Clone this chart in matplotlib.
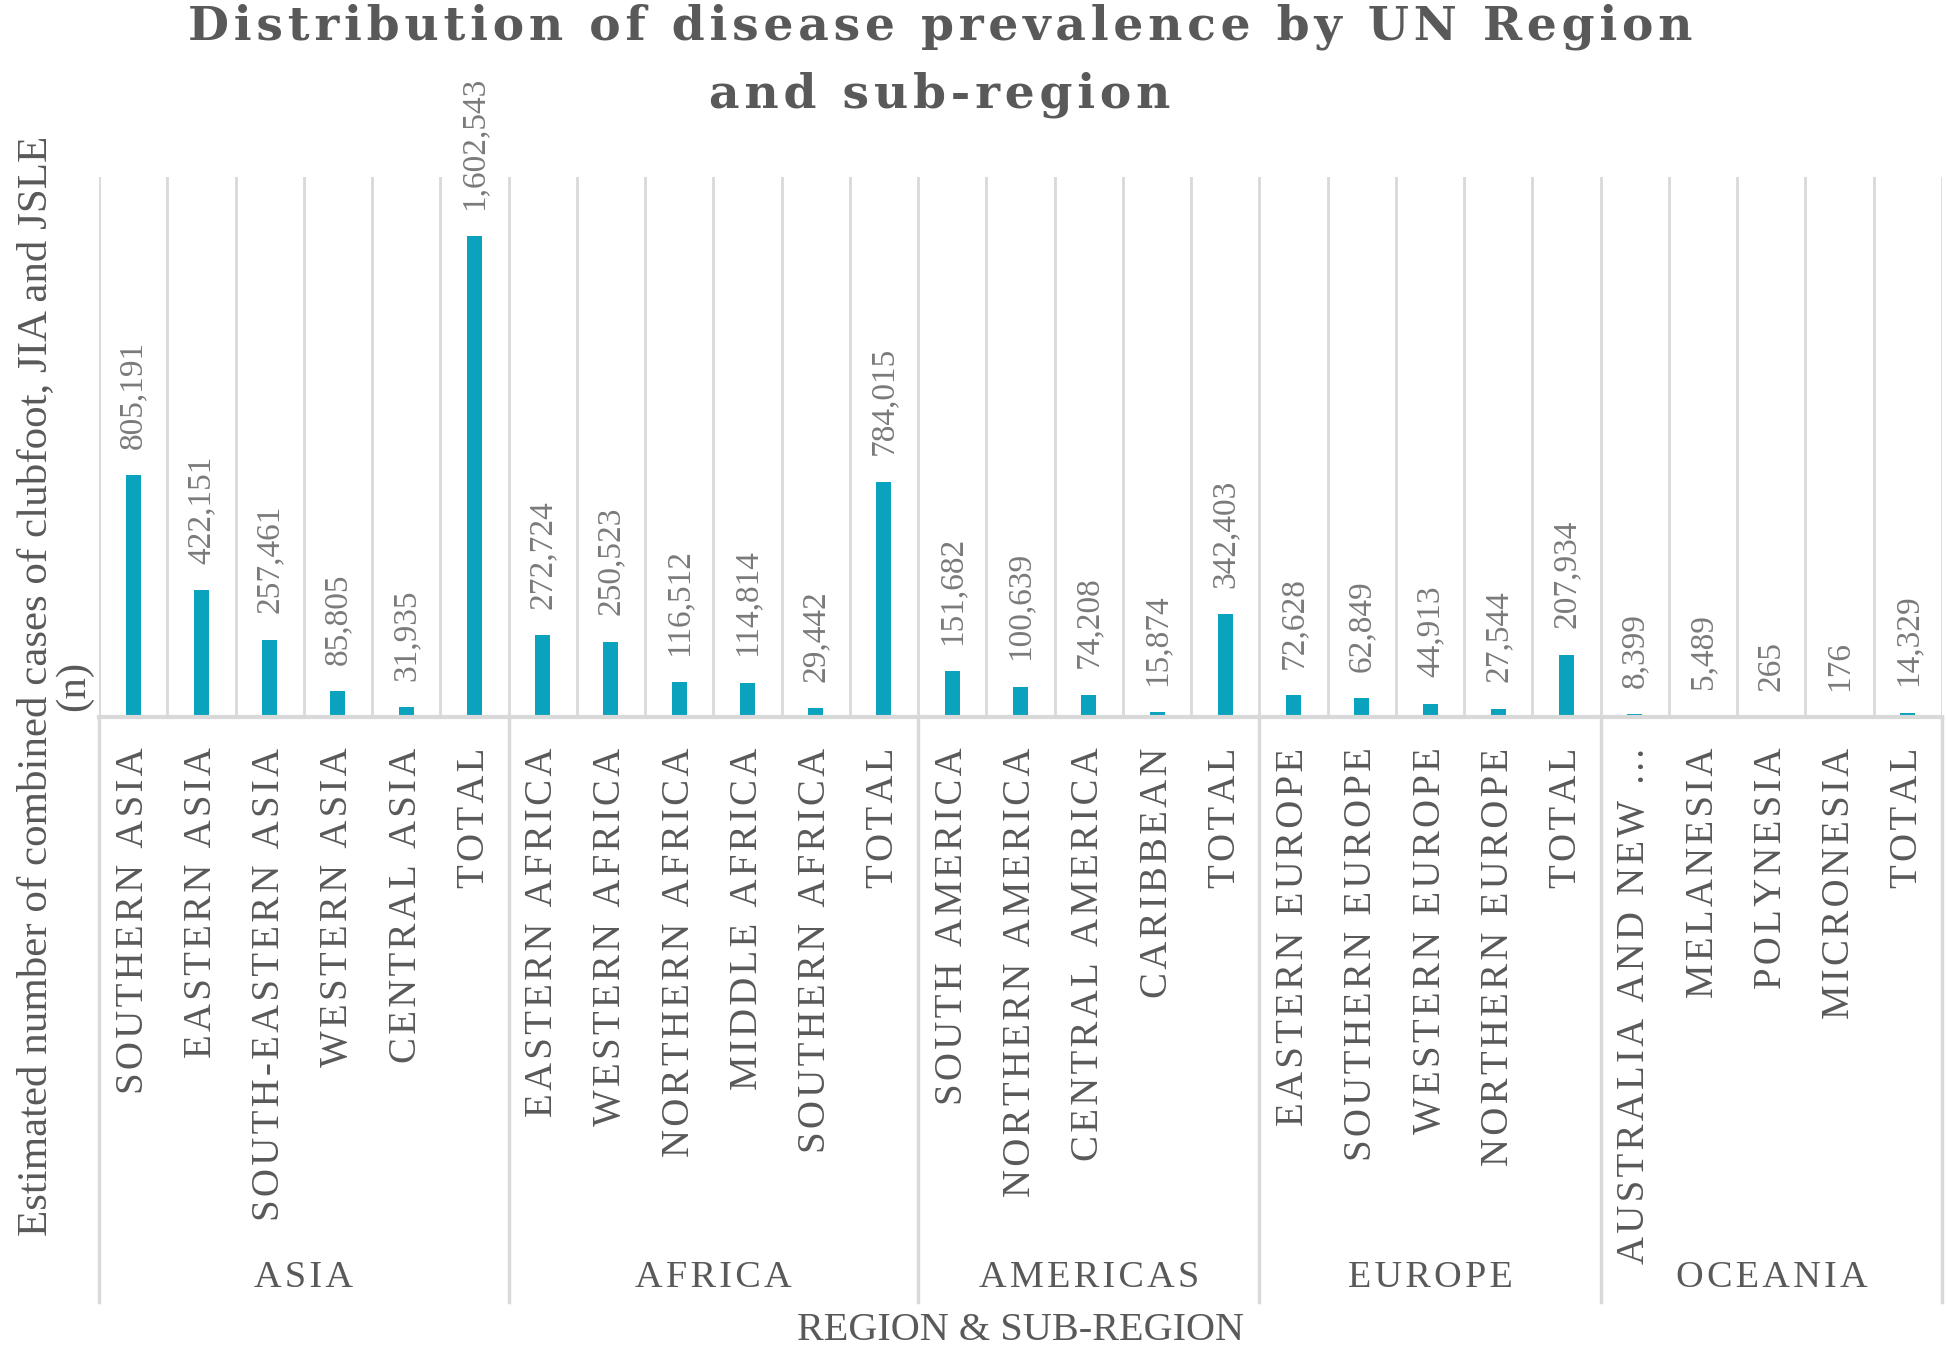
import matplotlib
matplotlib.use("Agg")
import matplotlib.pyplot as plt
from matplotlib.transforms import blended_transform_factory

# ---- data ----
groups = ["ASIA", "AFRICA", "AMERICAS", "EUROPE", "OCEANIA"]
asia_labels = ["SOUTHERN ASIA", "EASTERN ASIA", "SOUTH-EASTERN ASIA", "WESTERN ASIA", "CENTRAL ASIA", "TOTAL"]
asia_values = [805191, 422151, 257461, 85805, 31935, 1602543]
africa_labels = ["EASTERN AFRICA", "WESTERN AFRICA", "NORTHERN AFRICA", "MIDDLE AFRICA", "SOUTHERN AFRICA", "TOTAL"]
africa_values = [272724, 250523, 116512, 114814, 29442, 784015]
americas_labels = ["SOUTH AMERICA", "NORTHERN AMERICA", "CENTRAL AMERICA", "CARIBBEAN", "TOTAL"]
americas_values = [151682, 100639, 74208, 15874, 342403]
europe_labels = ["EASTERN EUROPE", "SOUTHERN EUROPE", "WESTERN EUROPE", "NORTHERN EUROPE", "TOTAL"]
europe_values = [72628, 62849, 44913, 27544, 207934]
oceania_labels = ["AUSTRALIA AND NEW ...", "MELANESIA", "POLYNESIA", "MICRONESIA", "TOTAL"]
oceania_values = [8399, 5489, 265, 176, 14329]

title_lines = ["Distribution of disease prevalence by UN Region", "and sub-region"]
ylabel = "Estimated number of combined cases of clubfoot, JIA and JSLE\n(n)"
xlabel = "REGION & SUB-REGION"

group_labels = [asia_labels, africa_labels, americas_labels, europe_labels, oceania_labels]
group_values = [asia_values, africa_values, americas_values, europe_values, oceania_values]

labels = [l for g in group_labels for l in g]
values = [v for g in group_values for v in g]
sizes = [len(g) for g in group_labels]

BAR = "#0aa2bd"
GRID = "#d9d9d9"
DARK = "#595959"
VAL = "#7a7a7a"
SERIF = ["Liberation Serif", "DejaVu Serif"]
HS = "\u200a"


def spaced(s):
    return HS.join(list(s))


W, H = 1946, 1350
fig = plt.figure(figsize=(W / 100, H / 100), dpi=100)
left, right, top, base, bottom = 99, 1942, 177, 717, 1302
ax = fig.add_axes([left / W, (H - base) / H, (right - left) / W, (base - top) / H])

n = len(values)
x = list(range(n))
ax.bar(x, values, width=0.22, color=BAR, zorder=3)
ax.set_xlim(-0.5, n - 0.5)
ax.set_ylim(0, 1.8e6)

# vertical gridlines between categories
for k in range(n + 1):
    ax.axvline(k - 0.5, color=GRID, lw=2, zorder=1)

for s in ["top", "left", "right"]:
    ax.spines[s].set_visible(False)
ax.spines["bottom"].set_color(GRID)
ax.spines["bottom"].set_linewidth(3)
ax.spines["bottom"].set_zorder(4)
ax.set_yticks([])

ax.set_xticks(x)
ax.set_xticklabels([spaced(l) for l in labels], rotation=90, fontsize=28,
                   color=DARK, family=SERIF)
ax.tick_params(axis="x", length=0, pad=22)

# value labels
for xi, v in zip(x, values):
    ax.annotate(f"{v:,}", (xi, v), xytext=(0, 19), textcoords="offset points",
                rotation=90, ha="center", va="bottom", fontsize=24,
                color=VAL, family=SERIF)

# group separators and labels below the axis
trans = blended_transform_factory(ax.transData, ax.transAxes)
ybot = -(bottom - base) / (base - top)
ygrp = -(1278 - base) / (base - top)
start = 0
bounds = [0]
for g, sz in zip(groups, sizes):
    end = start + sz
    ax.text((start + end - 1) / 2, ygrp, spaced(g), transform=trans, ha="center",
            va="center", fontsize=27.5, color=DARK, family=SERIF)
    bounds.append(end)
    start = end
for b in bounds:
    ax.plot([b - 0.5, b - 0.5], [0, ybot], transform=trans, color=GRID, lw=2.5,
            clip_on=False, zorder=1)

# axis titles
fig.text(55 / W, 1 - 686 / H, ylabel, rotation=90, ha="center", va="center",
         fontsize=31, color=DARK, family=SERIF, linespacing=1.0, multialignment="center")
fig.text(((left + right) / 2) / W, 0.5 / H, xlabel, ha="center", va="bottom",
         fontsize=29, color=DARK, family=SERIF)

for line, yb in zip(title_lines, [39, 107]):
    fig.text(940 / W, 1 - yb / H, spaced(line), ha="center", va="baseline", fontsize=34,
             fontweight="bold", color=DARK, family=["DejaVu Serif"])

fig.savefig("out.png", dpi=100)
